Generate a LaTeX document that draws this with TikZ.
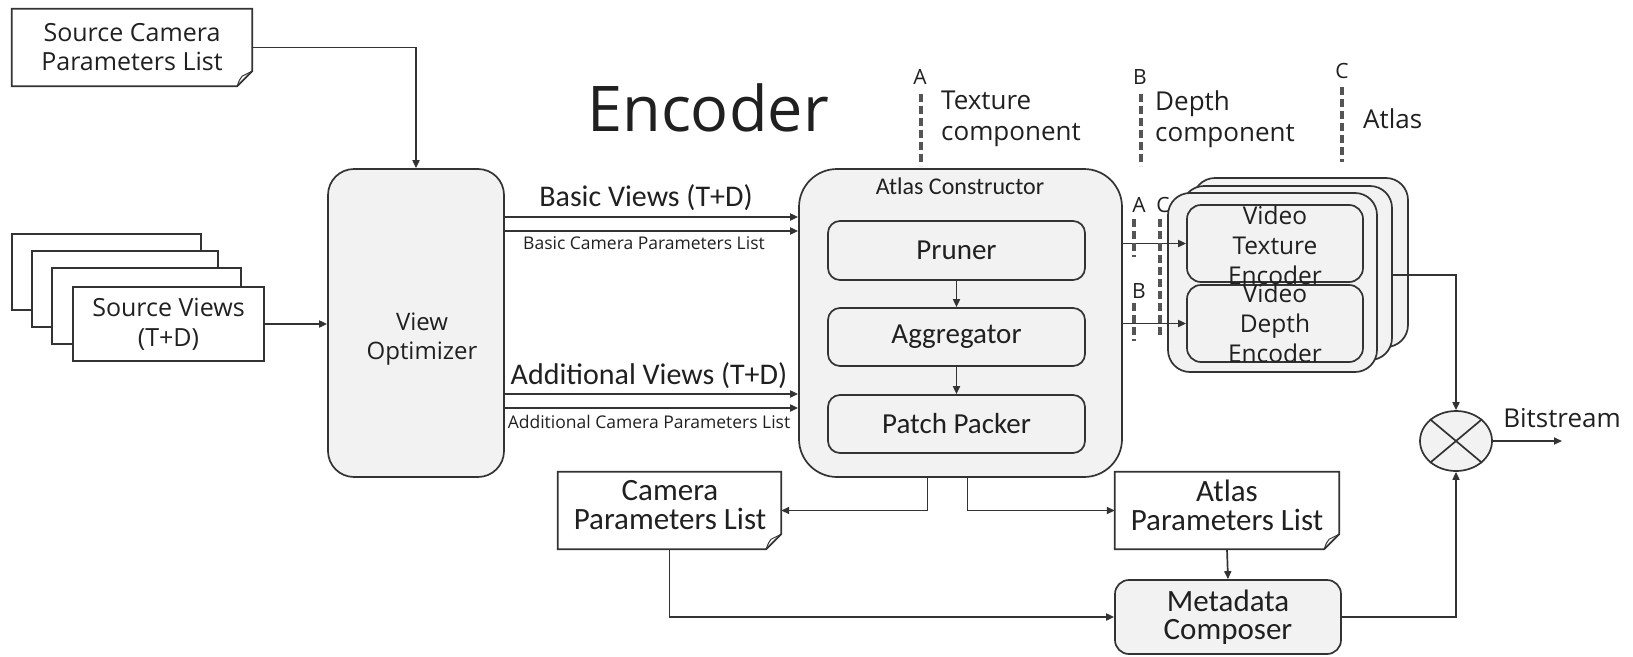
\documentclass[tikz,border=0pt]{standalone}
\usepackage{fontspec}
\setmainfont{Open Sans}
\newfontfamily\calf{Carlito}
\usetikzlibrary{arrows.meta,shapes.geometric}

\definecolor{edge}{HTML}{333333}
\definecolor{boxfill}{HTML}{F2F2F2}
\definecolor{dashgray}{HTML}{555555}
\definecolor{ink}{HTML}{202020}

\newcommand\fs[2]{\fontsize{#1}{#2}\selectfont}

% outline of a document shape with a folded bottom-right corner
\newcommand\dogear[1]{%
  \draw[ln] (#1.north west) -- (#1.north east) -- ([yshift=15pt]#1.south east)
    -- ([xshift=-15pt]#1.south east) -- (#1.south west) -- cycle;
  \draw[ln, line width=1pt] ([xshift=-15pt]#1.south east)
    .. controls ([xshift=-13pt,yshift=6pt]#1.south east) .. ([xshift=-10pt,yshift=10pt]#1.south east)
    -- ([yshift=15pt]#1.south east);}

\tikzset{
  ln/.style={draw=edge, line width=1.7pt},
  arr/.style={ln, -{Triangle[length=8pt,width=7pt]}},
  docbox/.style={inner sep=0pt, align=center, text=ink},
  sheet/.style={ln, fill=white, inner sep=0pt, align=center, text=ink},
  blk/.style={ln, fill=boxfill, rounded corners=#1, inner sep=0pt, align=center, text=ink},
  blk/.default=12pt,
  plain/.style={inner sep=0pt, text=ink, align=center},
  legdash/.style={draw=dashgray, line width=4pt, dash pattern=on 8pt off 4pt},
}

\begin{document}
\begin{tikzpicture}[x=1pt, y=-1pt]
\useasboundingbox (0,0) rectangle (1633,656);

% ---- inputs ----
\node[docbox, minimum width=240pt, minimum height=77pt, font=\fs{25}{29}] (scp) at (132,47.5)
  {Source Camera\\Parameters List};
\dogear{scp}

\node[sheet, minimum width=189pt, minimum height=76pt] (sv1) at (106.5,272) {};
\node[sheet, minimum width=186pt, minimum height=76pt] (sv2) at (125,289) {};
\node[sheet, minimum width=189pt, minimum height=76pt] (sv3) at (146.5,306) {};
\node[sheet, minimum width=191pt, minimum height=74pt, font=\fs{25}{30}] (sv4) at (168.5,324)
  {Source Views\\(T+D)};

% ---- view optimizer ----
\node[blk=26pt, minimum width=176pt, minimum height=308pt] (vo) at (416,323) {};
\node[plain, font=\fs{24}{29}] (vol) at (422,339) {View\\Optimizer};

\node[plain, font=\fs{63}{72}] (title) at (708,108) {Encoder};

% ---- legend ----
\node[plain, font=\fs{21}{24}] (legA) at (920,77) {A};
\coordinate (legAt) at (921,94);
\coordinate (legAb) at (921,166);
\draw[legdash] (legAt) -- (legAb);
\node[plain, anchor=west, align=left, font=\fs{26}{31}] (legAtxt) at (941,119) {Texture\\component};

\node[plain, font=\fs{21}{24}] (legB) at (1140,77) {B};
\coordinate (legBt) at (1141,94);
\coordinate (legBb) at (1141,166);
\draw[legdash] (legBt) -- (legBb);
\node[plain, anchor=west, align=left, font=\fs{26}{31}] (legBtxt) at (1155,119) {Depth\\component};

\node[plain, font=\fs{21}{24}] (legC) at (1342,71) {C};
\coordinate (legCt) at (1342,87);
\coordinate (legCb) at (1342,162);
\draw[legdash] (legCt) -- (legCb);
\node[plain, anchor=west, font=\fs{26}{30}] (legCtxt) at (1363,119) {Atlas};

% ---- atlas constructor ----
\node[blk=38pt, minimum width=323pt, minimum height=308pt] (ac) at (960.5,323) {};
\node[plain, font=\calf\fs{24}{28}] (actitle) at (960,186) {Atlas Constructor};
\node[blk=12pt, minimum width=257pt, minimum height=59pt, font=\calf\fs{29}{34}] (pr) at (956.5,250.5) {Pruner};
\node[blk=12pt, minimum width=257pt, minimum height=58pt, font=\calf\fs{29}{34}] (ag) at (956.5,337) {Aggregator};
\node[blk=12pt, minimum width=257pt, minimum height=58pt, font=\calf\fs{29}{34}] (pp) at (956.5,424) {Patch Packer};
\draw[arr] (pr.south) -- (ag.north);
\draw[arr] (ag.south) -- (pp.north);

% ---- view optimizer to atlas constructor ----
\coordinate (bv1) at (0,217);
\coordinate (bv2) at (0,231);
\coordinate (av1) at (0,394);
\coordinate (av2) at (0,408);
\draw[arr] (vo.east |- bv1) -- (ac.west |- bv1);
\draw[arr] (vo.east |- bv2) -- (ac.west |- bv2);
\draw[arr] (vo.east |- av1) -- (ac.west |- av1);
\draw[arr] (vo.east |- av2) -- (ac.west |- av2);
\node[plain, font=\calf\fs{30}{34}] (bvl) at (646,198) {Basic Views (T+D)};
\node[plain, font=\fs{17.5}{20}] (bcl) at (644,243) {Basic Camera Parameters List};
\node[plain, font=\calf\fs{30}{34}] (avl) at (649,376) {Additional Views (T+D)};
\node[plain, font=\fs{17.5}{20}] (acl) at (649,422) {Additional Camera Parameters List};

% ---- source inputs to view optimizer ----
\draw[arr] (scp.east) -| (vo.north);
\draw[arr] (sv4.east) -- (vo.west |- sv4.east);

% ---- video encoders ----
\node[blk=22pt, minimum width=215pt, minimum height=169pt] (encb) at (1300.5,262.5) {};
\node[blk=22pt, minimum width=210pt, minimum height=174pt] (encm) at (1287,273) {};
\node[blk=22pt, minimum width=209pt, minimum height=179pt] (encf) at (1272.5,282.5) {};
\node[blk=14pt, minimum width=176pt, minimum height=77pt] (tex) at (1275,243.5) {};
\node[blk=14pt, minimum width=176pt, minimum height=77pt] (dep) at (1275,323.5) {};
\node[plain, font=\fs{24.5}{30}] (texl) at (1275,245) {Video\\Texture\\Encoder};
\node[plain, font=\fs{24.5}{30}] (depl) at (1275,323) {Video\\Depth\\Encoder};

\draw[arr] (ac.east |- tex.west) -- (tex.west);
\draw[arr] (ac.east |- dep.west) -- (dep.west);

% component markers on the encoder inputs
\node[plain, font=\fs{21}{24}] (mA) at (1139,205) {A};
\node[plain, font=\fs{21}{24}] (mC) at (1163,205) {C};
\node[plain, font=\fs{21}{24}] (mB) at (1139,291) {B};
\coordinate (mAt) at (1134,219); \coordinate (mAb) at (1134,257);
\coordinate (mCt) at (1160,219); \coordinate (mCb) at (1160,338);
\coordinate (mBt) at (1134,303); \coordinate (mBb) at (1134,341);
\draw[legdash] (mAt) -- (mAb);
\draw[legdash] (mCt) -- (mCb);
\draw[legdash] (mBt) -- (mBb);

% ---- multiplexer ----
\node[ellipse, ln, fill=boxfill, minimum width=72pt, minimum height=60pt, inner sep=0pt] (mux) at (1456,441) {};
\draw[ln] (mux.north west) -- (mux.south east);
\draw[ln] (mux.north east) -- (mux.south west);
\coordinate (encout) at (0,275);
\draw[arr] (encm.east |- encout) -| (mux.north);
\coordinate (bsend) at (1562,441);
\draw[arr] (mux.east) -- (bsend);
\node[plain, font=\fs{26}{30}] (bsl) at (1562,418) {Bitstream};

% ---- metadata ----
\node[docbox, minimum width=223pt, minimum height=77pt] (cpl) at (669.5,510.5) {};
\dogear{cpl}
\node[plain, font=\calf\fs{31}{29}] (cpll) at (670,505) {Camera\\Parameters List};
\node[docbox, minimum width=224pt, minimum height=77pt] (apl) at (1227,510.5) {};
\dogear{apl}
\node[plain, font=\calf\fs{31}{29}] (apll) at (1227,505) {Atlas\\Parameters List};
\node[blk=14pt, minimum width=226pt, minimum height=74pt, font=\calf\fs{31}{28}] (md) at (1228,617)
  {Metadata\\Composer};

\draw[arr] ([xshift=-33pt]ac.south) |- (cpl.east);
\draw[arr] ([xshift=7pt]ac.south) |- (apl.west);
\draw[arr] (apl.south) -- (md.north);
\draw[arr] (cpl.south) |- (md.west);
\draw[arr] (md.east) -| (mux.south);
\end{tikzpicture}
\end{document}
